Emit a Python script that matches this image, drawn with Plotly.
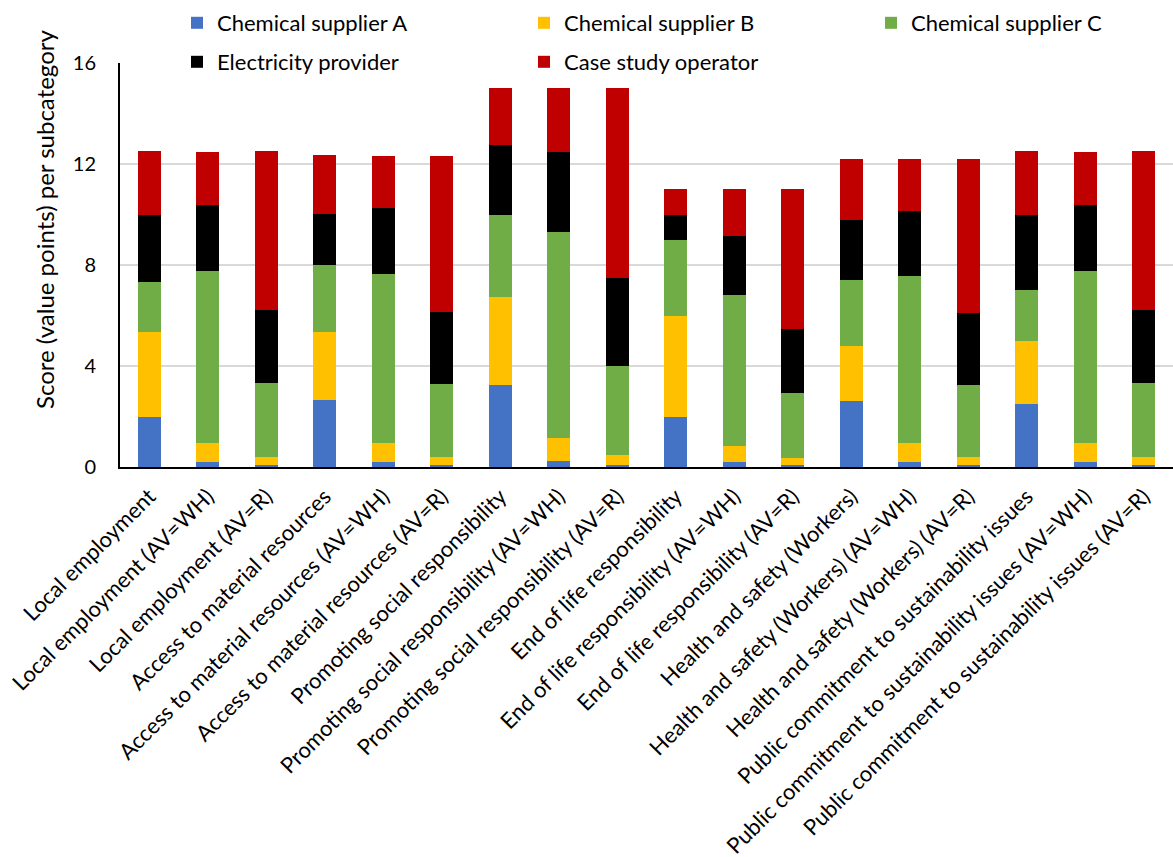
import plotly.graph_objects as go

# Subcategories on the x axis
categories = [
    "Local employment",
    "Local employment (AV=WH)",
    "Local employment (AV=R)",
    "Access to material resources",
    "Access to material resources (AV=WH)",
    "Access to material resources (AV=R)",
    "Promoting social responsibility",
    "Promoting social responsibility (AV=WH)",
    "Promoting social responsibility (AV=R)",
    "End of life responsibility",
    "End of life responsibility (AV=WH)",
    "End of life responsibility (AV=R)",
    "Health and safety (Workers)",
    "Health and safety (Workers) (AV=WH)",
    "Health and safety (Workers) (AV=R)",
    "Public commitment to sustainability issues",
    "Public commitment to sustainability issues (AV=WH)",
    "Public commitment to sustainability issues (AV=R)",
]

# Score contributions (value points) per stakeholder
supplier_a = [2.00, 0.21, 0.08, 2.67, 0.21, 0.07, 3.25, 0.25, 0.09,
              2.00, 0.18, 0.07, 2.60, 0.20, 0.07, 2.50, 0.21, 0.08]
supplier_b = [3.33, 0.75, 0.33, 2.67, 0.75, 0.34, 3.50, 0.91, 0.40,
              4.00, 0.66, 0.29, 2.20, 0.75, 0.34, 2.50, 0.75, 0.33]
supplier_c = [2.00, 6.80, 2.92, 2.67, 6.68, 2.86, 3.25, 8.15, 3.50,
              3.00, 5.98, 2.56, 2.60, 6.61, 2.82, 2.00, 6.80, 2.92]
electricity = [2.67, 2.63, 2.90, 2.00, 2.60, 2.86, 2.75, 3.16, 3.48,
               1.00, 2.32, 2.56, 2.37, 2.58, 2.86, 3.00, 2.63, 2.90]
operator = [2.50, 2.10, 6.27, 2.33, 2.08, 6.19, 2.25, 2.53, 7.53,
            1.00, 1.86, 5.52, 2.42, 2.06, 6.11, 2.50, 2.10, 6.27]

y_ticks = [0, 4, 8, 12, 16]

FONT = "Lato, 'Open Sans', sans-serif"

# Figure geometry (pixels)
W, H = 1173, 857
L, R, T, B = 120, 0, 63, 390
plot_w = W - L - R
plot_h = H - T - B


def px_x(px):
    return (px - L) / plot_w


def px_y(py):
    return (H - B - py) / plot_h


# name, values, colour, legend id, legend text left edge (px), legend row centre (px)
series = [
    ("Chemical supplier A", supplier_a, "#4472C4", "legend", 218, 23),
    ("Chemical supplier B", supplier_b, "#FFC000", "legend2", 565, 23),
    ("Chemical supplier C", supplier_c, "#70AD47", "legend3", 912, 23),
    ("Electricity provider", electricity, "#000000", "legend4", 218, 62),
    ("Case study operator", operator, "#C00000", "legend5", 565, 62),
]

fig = go.Figure()
legends = {}
for name, vals, color, leg, tx, ty in series:
    fig.add_trace(go.Bar(
        x=categories, y=vals, name=name, legend=leg, showlegend=True,
        marker=dict(color=color, line=dict(width=0)),
    ))
    legends[leg] = dict(
        orientation="h", xanchor="left", yanchor="middle",
        x=px_x(tx - 41), y=px_y(ty),
        font=dict(family=FONT, size=22, color="#000000"),
        bgcolor="rgba(255,255,255,0)",
        itemclick=False, itemdoubleclick=False,
    )

fig.update_layout(
    width=W, height=H,
    margin=dict(l=L, r=R, t=T, b=B, autoexpand=False),
    showlegend=True,
    barmode="stack", bargap=0.6,
    plot_bgcolor="white", paper_bgcolor="white",
    font=dict(family=FONT, size=20, color="#000000"),
    **legends,
    xaxis=dict(
        tickangle=-45, showline=True, linecolor="#000000", linewidth=2,
        ticks="", showgrid=False, automargin=False,
        tickfont=dict(family=FONT, size=22, color="#000000"),
        ticklabelstandoff=6,
    ),
    yaxis=dict(
        range=[0, 16], tickvals=y_ticks, showline=True, linecolor="#000000",
        linewidth=2, showgrid=True, gridcolor="#D9D9D9", gridwidth=1.5,
        ticks="", zeroline=False, automargin=False,
        tickfont=dict(family=FONT, size=20, color="#000000"),
        ticklabelstandoff=18,
    ),
    annotations=[dict(
        text="Score (value points) per subcategory", textangle=-90,
        xref="paper", yref="paper", x=px_x(44), y=px_y(220),
        xanchor="center", yanchor="middle", showarrow=False,
        font=dict(family=FONT, size=24, color="#000000"),
    )],
    shapes=[dict(
        type="rect", xref="paper", yref="paper", layer="below",
        x0=px_x(128), x1=px_x(1168), y0=1 - 3 / plot_h, y1=1 + 3 / plot_h,
        fillcolor="white", line=dict(width=0),
    )],
)

fig.write_html("out.html")
